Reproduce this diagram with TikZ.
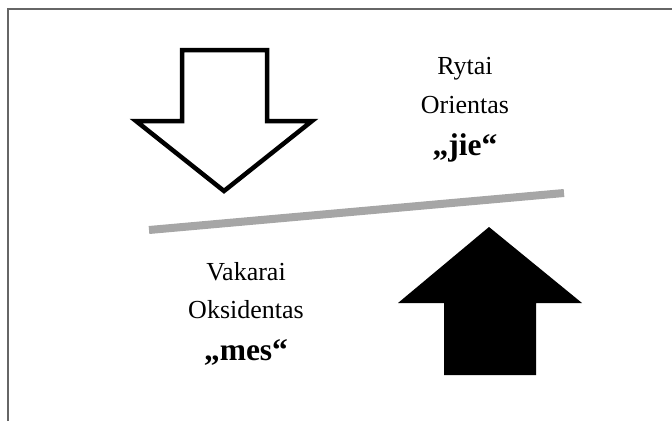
\documentclass[tikz,border=0pt]{standalone}
\usepackage{fontspec}
\setmainfont{Liberation Serif}
\begin{document}
\begin{tikzpicture}[x=1pt,y=-1pt,
    sidetext/.style={font=\fontsize{26}{30}\selectfont, anchor=base, inner sep=0pt},
    sideword/.style={font=\bfseries\fontsize{31.5}{36}\selectfont, anchor=base, inner sep=0pt}]
        \useasboundingbox (0,0) rectangle (672,421);

        % frame
        \draw[black!60,line width=1.5pt] (8,421) -- (8,9) -- (672,9);

        % east (top)
        \node[sidetext] (rytai) at (465,74) {Rytai};
        \node[sidetext] (orientas) at (465,113) {Orientas};
        \node[sideword] (jie) at (465,155) {„jie“};

        \draw[line width=4.5pt,fill=white,line join=miter] (182,50) -- (267,50) -- (267,121) -- (312,121)
            -- (224,191) -- (136,121) -- (182,121) -- cycle;

        % balance bar
        \draw[black!35,line width=8pt] (149,230) -- (564,193);

        % west (bottom)
        \node[sidetext] (vakarai) at (246,280) {Vakarai};
        \node[sidetext] (oksidentas) at (246,318) {Oksidentas};
        \node[sideword] (mes) at (246,360) {„mes“};

        \fill (489,227) -- (582,303) -- (536,303) -- (536,375) -- (444,375) -- (444,303) -- (398,303) -- cycle;

    \end{tikzpicture}
\end{document}
